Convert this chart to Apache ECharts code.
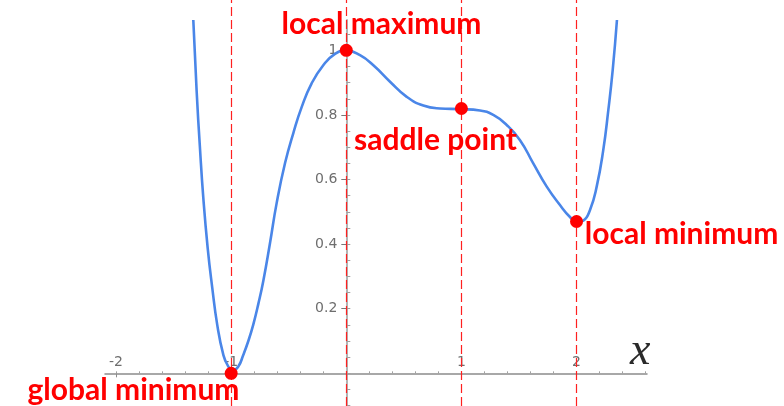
<!DOCTYPE html>
<html>
<head>
<meta charset="utf-8">
<script src="https://cdn.jsdelivr.net/npm/echarts@6/dist/echarts.min.js"></script>
<style>
html, body { margin: 0; padding: 0; background: #ffffff; }
#chart { width: 784px; height: 406px; }
</style>
</head>
<body>
<div id="chart"></div>
<script>
// Sampled points of the curve f(x)
const curveX = [
  -1.329, -1.300, -1.271, -1.242, -1.204, -1.164, -1.121, -1.068, -1.028, -0.984,
  -0.938, -0.895, -0.851, -0.808, -0.764, -0.721, -0.663, -0.605, -0.532, -0.460,
  -0.387, -0.301, -0.200, -0.098, 0.000, 0.119, 0.235, 0.380, 0.525, 0.669,
  0.814, 0.988, 1.161, 1.277, 1.393, 1.509, 1.624, 1.741, 1.856, 1.943,
  2.004, 2.059, 2.117, 2.175, 2.232, 2.276, 2.314, 2.351
];
const curveY = [
  1.094, 0.874, 0.697, 0.543, 0.388, 0.264, 0.150, 0.057, 0.023, 0.009,
  0.021, 0.057, 0.100, 0.151, 0.215, 0.286, 0.403, 0.527, 0.651, 0.744,
  0.825, 0.898, 0.954, 0.989, 1.000, 0.985, 0.954, 0.903, 0.856, 0.829,
  0.820, 0.818, 0.814, 0.800, 0.769, 0.722, 0.650, 0.578, 0.521, 0.484,
  0.469, 0.473, 0.506, 0.578, 0.691, 0.815, 0.939, 1.094
];

// Critical points of f
const criticalX = [-1, 0, 1, 2];
const criticalY = [0, 1, 0.82, 0.47];
const criticalNames = ['global minimum', 'local maximum', 'saddle point', 'local minimum'];

// Axis ticks and labels
const xMajorTicks = [-2, -1, 0, 1, 2];
const xTickLabels = [-2, -1, 1, 2];
const yTickLabels = [0.2, 0.4, 0.6, 0.8, 1];

const X_MIN = -2.096, X_MAX = 2.612;
const Y_MIN = -0.1012, Y_MAX = 1.094;

// plot box in pixels
const W = 784, H = 406;
const G_LEFT = 105, G_RIGHT = 137, G_TOP = 20, G_BOTTOM = 0;
const plotW = W - G_LEFT - G_RIGHT, plotH = H - G_TOP - G_BOTTOM;
// pixel position of the lines x = 0 and y = 0 inside the plot box
const zeroX = G_LEFT + (0 - X_MIN) / (X_MAX - X_MIN) * plotW;
const zeroY = G_TOP + (Y_MAX - 0) / (Y_MAX - Y_MIN) * plotH;

// minor tick positions (every 0.2 on x, every 0.05 on y)
const xMinorTicks = [];
for (let i = -10; i <= 13; i++) xMinorTicks.push(+(i * 0.2).toFixed(2));
const yMinorTicks = [];
for (let i = -2; i <= 21; i++) yMinorTicks.push(+(i * 0.05).toFixed(2));

const labelOffsets = {
  'global minimum': [-97.7, 17],
  'local maximum': [35.2, -26],
  'saddle point': [-25.9, 31.8],
  'local minimum': [105, 12.8]
};

const axisGrey = '#8c8c8c';
const labelGrey = '#6e6e6e';

const chart = echarts.init(document.getElementById('chart'), null, { renderer: 'canvas' });

chart.setOption({
  animation: false,
  backgroundColor: '#ffffff',
  grid: [
    { left: G_LEFT, right: G_RIGHT, top: G_TOP, bottom: G_BOTTOM, containLabel: false },
    { left: G_LEFT, right: G_RIGHT, top: 0, bottom: 0, containLabel: false }
  ],
  xAxis: [
    {
      // x axis drawn through y = 0, labels above it
      gridIndex: 0, type: 'value', min: X_MIN, max: X_MAX, position: 'bottom',
      offset: -(H - G_BOTTOM - zeroY),
      axisLine: { onZero: false, lineStyle: { color: axisGrey, width: 1.5 } },
      axisTick: { customValues: xMajorTicks, length: 4, lineStyle: { color: axisGrey, width: 1 } },
      axisLabel: {
        inside: true, customValues: xTickLabels, margin: 4,
        fontFamily: 'DejaVu Sans', fontSize: 14, color: labelGrey
      },
      splitLine: { show: false },
      name: 'x', nameLocation: 'end', nameGap: -17,
      nameTextStyle: {
        fontFamily: 'Liberation Serif', fontStyle: 'italic', fontSize: 46, lineHeight: 43,
        color: '#2a2a2a', verticalAlign: 'bottom'
      }
    },
    {
      // minor ticks on the upper side of the x axis
      gridIndex: 0, type: 'value', min: X_MIN, max: X_MAX, position: 'top',
      offset: -(zeroY - G_TOP),
      axisLine: { show: false, onZero: false },
      axisTick: { customValues: xMinorTicks, length: 2, lineStyle: { color: '#a0a0a0', width: 1 } },
      axisLabel: { show: false },
      splitLine: { show: false }
    },
    { gridIndex: 1, type: 'value', min: X_MIN, max: X_MAX, show: false }
  ],
  yAxis: [
    {
      // y axis drawn through x = 0
      gridIndex: 0, type: 'value', min: Y_MIN, max: Y_MAX, position: 'left',
      offset: -(zeroX - G_LEFT),
      axisLine: { onZero: false, lineStyle: { color: '#b4b4b4', width: 2 } },
      axisTick: { customValues: yTickLabels, length: 5, lineStyle: { color: '#777', width: 1 } },
      axisLabel: {
        customValues: yTickLabels, margin: 9,
        fontFamily: 'DejaVu Sans', fontSize: 14, color: labelGrey
      },
      splitLine: { show: false }
    },
    {
      // minor ticks on the right side of the y axis
      gridIndex: 0, type: 'value', min: Y_MIN, max: Y_MAX, position: 'right',
      offset: -(W - G_RIGHT - zeroX),
      axisLine: { show: false, onZero: false },
      axisTick: { customValues: yMinorTicks, length: 4, lineStyle: { color: '#a0a0a0', width: 1 } },
      axisLabel: { show: false },
      splitLine: { show: false }
    },
    { gridIndex: 1, type: 'value', min: 0, max: 1, show: false }
  ],
  series: [
    {
      // vertical guides through the critical points
      type: 'line', xAxisIndex: 2, yAxisIndex: 2, data: [],
      silent: true, z: 1,
      markLine: {
        silent: true, symbol: 'none', animation: false,
        label: { show: false },
        lineStyle: { color: '#ff2020', width: 1.2, type: [9, 4] },
        data: criticalX.map(x => ({ xAxis: x }))
      }
    },
    {
      type: 'line', xAxisIndex: 0, yAxisIndex: 0,
      data: curveX.map((x, i) => [x, curveY[i]]),
      smooth: 0.5, showSymbol: false, z: 3,
      lineStyle: { color: '#4a86e8', width: 2.6 }
    },
    {
      type: 'scatter', xAxisIndex: 0, yAxisIndex: 0, z: 5,
      symbolSize: 13,
      itemStyle: { color: '#ff0000', opacity: 1 },
      label: {
        show: true, position: 'inside', formatter: p => p.name,
        fontFamily: 'Lato', fontWeight: 'bold', fontSize: 30, color: '#ff0000'
      },
      data: criticalX.map((x, i) => ({
        value: [x, criticalY[i]],
        name: criticalNames[i],
        label: { offset: labelOffsets[criticalNames[i]] }
      }))
    }
  ]
});
</script>
</body>
</html>
